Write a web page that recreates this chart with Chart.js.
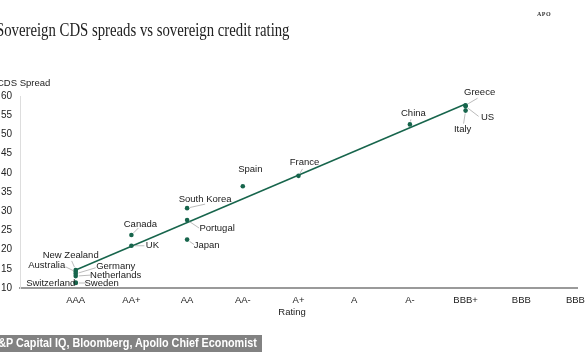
<!DOCTYPE html>
<html>
<head>
<meta charset="utf-8">
<script src="https://cdn.jsdelivr.net/npm/chart.js@4.4.1/dist/chart.umd.min.js"></script>
<style>
  html, body { margin: 0; padding: 0; background: #fff; overflow: hidden; width: 585px; height: 352px; }
  #wrap { position: absolute; left: 0; top: 0; width: 600px; height: 352px; }
  .title { position: absolute; left: -4px; top: 20px; font-family: "Liberation Serif", serif; font-size: 18px; color: #222;
           white-space: nowrap; transform: scaleX(0.82); transform-origin: left top; }
  .ylab { position: absolute; left: -3px; top: 77px; font-family: "Liberation Sans", Arial, sans-serif; font-size: 9.5px; color: #222; }
  .xlab { position: absolute; left: 272px; width: 40px; text-align: center; top: 306px; font-family: "Liberation Sans", Arial, sans-serif; font-size: 9.5px; color: #222; }
  .apo { position: absolute; left: 537px; top: 11px; font-family: "Liberation Serif", serif; font-size: 6px; font-weight: bold; color: #333; letter-spacing: 0.5px; }
  .source { position: absolute; left: 0; top: 335px; width: 262px; height: 17px; background: #828282; color: #fff;
            font-family: "Liberation Sans", Arial, sans-serif; font-weight: bold; font-size: 12px; line-height: 17px; white-space: nowrap; overflow: hidden; }
  .source span { display: inline-block; transform: scaleX(0.9); transform-origin: left top; margin-left: -9px; }
</style>
</head>
<body>
<div id="wrap"><canvas id="chart" width="600" height="352"></canvas></div>
<div class="title">Sovereign CDS spreads vs sovereign credit rating</div>
<div class="ylab">CDS Spread</div>
<div class="xlab">Rating</div>
<div class="apo">APO</div>
<div class="source"><span>S&amp;P Capital IQ, Bloomberg, Apollo Chief Economist</span></div>

<script>
const ratings = ["AAA", "AA+", "AA", "AA-", "A+", "A", "A-", "BBB+", "BBB", "BBB-"];
const yTicks = [10, 15, 20, 25, 30, 35, 40, 45, 50, 55, 60];

const countries = ["New Zealand", "Australia", "Germany", "Netherlands", "Switzerland", "Sweden",
  "Canada", "UK", "South Korea", "Portugal", "Japan", "Spain", "France", "China", "Greece", "US", "Italy"];
const countryRatings = ["AAA", "AAA", "AAA", "AAA", "AAA", "AAA",
  "AA+", "AA+", "AA", "AA", "AA", "AA-", "A+", "A-", "BBB+", "BBB+", "BBB+"];
const cdsSpread = [14.7, 14.2, 13.7, 13.1, 11.4, 11.3,
  23.8, 21.0, 30.8, 27.7, 22.6, 36.5, 39.2, 52.6, 57.6, 57.3, 56.2];

const trendRatings = ["AAA", "BBB+"];
const trendValues = [14.7, 57.9];

// label placement: text centre offset [tx, ty], leader end [lx, ly] (px from point)
const labelLayout = {
  "New Zealand": { t: [-5, -15], l: [-4, -9] },
  "Australia": { t: [-29, -6], l: [-10, -5] },
  "Germany": { t: [40, -7], l: [20, -6] },
  "Netherlands": { t: [40, -1], l: [15, -1] },
  "Switzerland": { t: [-25, 0.5], l: null },
  "Sweden": { t: [26, 0], l: [10, 0] },
  "Canada": { t: [9, -11], l: [7, -7] },
  "UK": { t: [21, 0], l: [13, 0] },
  "South Korea": { t: [18, -9], l: [18, -4] },
  "Portugal": { t: [30, 8], l: [12, 8] },
  "Japan": { t: [19.5, 6], l: [7, 5] },
  "Spain": { t: [7.5, -17], l: null },
  "France": { t: [6, -13], l: [4, -7] },
  "China": { t: [3.5, -11], l: [1, -5] },
  "Greece": { t: [14, -13], l: [12, -7] },
  "US": { t: [22, 11], l: [13, 10] },
  "Italy": { t: [-3, 19], l: [-2, 13] }
};

const green = "#17654c";

const labelsPlugin = {
  id: "countryLabels",
  afterDatasetsDraw(chart) {
    const ctx = chart.ctx;
    const meta = chart.getDatasetMeta(1);
    ctx.save();
    ctx.font = "9.5px 'Liberation Sans', Arial, sans-serif";
    ctx.textAlign = "center";
    ctx.textBaseline = "middle";
    meta.data.forEach((pt, i) => {
      const name = countries[i];
      const lay = labelLayout[name];
      if (!lay) return;
      if (lay.l) {
        const len = Math.hypot(lay.l[0], lay.l[1]);
        ctx.strokeStyle = "#aaa";
        ctx.lineWidth = 0.8;
        ctx.beginPath();
        ctx.moveTo(pt.x + lay.l[0] / len * 3, pt.y + lay.l[1] / len * 3);
        ctx.lineTo(pt.x + lay.l[0], pt.y + lay.l[1]);
        ctx.stroke();
      }
      ctx.fillStyle = "#1a1a1a";
      ctx.fillText(name, pt.x + lay.t[0], pt.y + lay.t[1]);
    });
    ctx.restore();
  }
};

new Chart(document.getElementById("chart"), {
  type: "scatter",
  data: {
    datasets: [
      {
        type: "line",
        data: trendRatings.map((r, i) => ({ x: ratings.indexOf(r), y: trendValues[i] })),
        borderColor: green,
        borderWidth: 1.5,
        pointRadius: 0,
        fill: false
      },
      {
        data: countries.map((c, i) => ({ x: ratings.indexOf(countryRatings[i]), y: cdsSpread[i] })),
        backgroundColor: green,
        borderColor: green,
        pointRadius: 2.3,
        borderWidth: 0
      }
    ]
  },
  options: {
    responsive: false,
    devicePixelRatio: 1,
    animation: false,
    layout: { padding: { top: 96, right: 23, bottom: 0, left: 0 } },
    plugins: { legend: { display: false }, tooltip: { enabled: false } },
    scales: {
      x: {
        type: "linear",
        min: -1,
        max: 9,
        grid: { display: false, drawTicks: false },
        border: { color: "#9a9a9a", width: 2 },
        ticks: {
          stepSize: 1,
          autoSkip: false,
          maxRotation: 0,
          padding: 7,
          color: "#222",
          font: { family: "'Liberation Sans', Arial, sans-serif", size: 9.5 },
          callback: v => ratings[v] || ""
        },
        afterFit: s => { s.height = 64; s.paddingLeft = 0; s.paddingRight = 0; }
      },
      y: {
        min: 10,
        max: 60,
        grid: { display: false, drawTicks: false },
        border: { color: "#ddd", width: 1 },
        afterBuildTicks: s => { s.ticks = yTicks.map(v => ({ value: v })); },
        ticks: {
          padding: 8,
          color: "#222",
          font: { family: "'Liberation Sans', Arial, sans-serif", size: 10 }
        },
        afterFit: s => { s.width = 20; }
      }
    }
  },
  plugins: [labelsPlugin]
});
</script>
</body>
</html>
